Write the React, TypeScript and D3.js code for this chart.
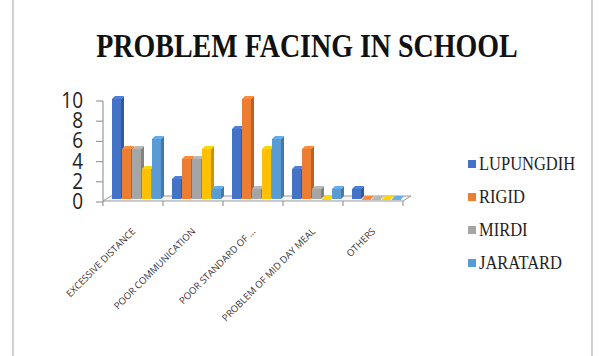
import React from "react";
import * as d3 from "d3";

const categories = [
  "EXCESSIVE DISTANCE",
  "POOR COMMUNICATION",
  "POOR STANDARD OF ...",
  "PROBLEM OF MID DAY MEAL",
  "OTHERS",
];
const seriesNames = ["LUPUNGDIH", "RIGID", "MIRDI", "", "JARATARD"];
const seriesColors = ["#4472C4", "#ED7D31", "#A5A5A5", "#FFC000", "#5B9BD5"];
const lupungdih = [10, 2, 7, 3, 1];
const rigid = [5, 4, 10, 5, 0];
const mirdi = [5, 4, 1, 1, 0];
const unnamed = [3, 5, 5, 0, 0];
const jaratard = [6, 1, 6, 1, 0];
const yTicks = [0, 2, 4, 6, 8, 10];
const legendItems = [0, 1, 2, 4];

const W = 601;
const H = 356;

export default function App() {
  const series = [lupungdih, rigid, mirdi, unnamed, jaratard];
  const x0 = 103;
  const x1 = 403;
  const xCat = d3.scaleBand<string>().domain(categories).range([x0, x1]);
  const xSer = d3
    .scaleBand<number>()
    .domain(d3.range(series.length))
    .range([9, 59]);
  const yFront = d3.scaleLinear().domain([0, 10]).range([199, 99]);
  const yBack = d3.scaleLinear().domain([0, 10]).range([202, 101]);
  const dx = 3;
  const dy = 3;
  const floorFront = 201;
  const floorBack = 196;

  const bars: React.ReactNode[] = [];
  categories.forEach((c, i) => {
    series.forEach((vals, j) => {
      const v = vals[i];
      const bx = (xCat(c) as number) + (xSer(j) as number);
      const bw = xSer.bandwidth() - 1;
      const yt = yFront(v);
      const yb = yFront(0);
      const col = d3.color(seriesColors[j])!;
      const dark = col.darker(0.7).toString();
      const light = col.brighter(0.3).toString();
      bars.push(
        <g key={`${i}-${j}`}>
          <polygon
            points={`${bx + bw},${yt} ${bx + bw + dx},${yt - dy} ${bx + bw + dx},${yb - dy} ${bx + bw},${yb}`}
            fill={dark}
          />
          <polygon
            points={`${bx},${yt} ${bx + dx},${yt - dy} ${bx + bw + dx},${yt - dy} ${bx + bw},${yt}`}
            fill={light}
          />
          <rect x={bx} y={yt} width={bw} height={Math.max(yb - yt, 0.8)} fill={seriesColors[j]} />
        </g>
      );
    });
  });

  return (
    <svg
      width={W}
      height={H}
      style={{ position: "absolute", left: 0, top: 0, display: "block", background: "#fff" }}
    >
      <line x1={13} x2={13} y1={0} y2={H} stroke="#b5b5b5" strokeWidth={1.2} />
      <line x1={592} x2={592} y1={0} y2={H} stroke="#b5b5b5" strokeWidth={1.2} />
      <text
        transform="translate(307,57) scale(1,1.2)"
        textAnchor="middle"
        fontFamily="'Liberation Serif', 'Times New Roman', serif"
        fontWeight="bold"
        fontSize={28}
        fill="#111"
      >
        PROBLEM FACING IN SCHOOL
      </text>

      {/* floor */}
      <polygon
        points={`${x0},${floorFront} ${x0 + 8},${floorBack} ${x1 + 8},${floorBack} ${x1},${floorFront}`}
        fill="#f4f4f4"
        stroke="#9a9a9a"
        strokeWidth={1}
      />
      {/* vertical axis */}
      <line x1={x0} x2={x0} y1={yBack(10)} y2={floorFront} stroke="#9a9a9a" strokeWidth={1.2} />
      {yTicks.map((t) => (
        <g key={t}>
          <line x1={x0 - 7} x2={x0} y1={yBack(t)} y2={yBack(t)} stroke="#9a9a9a" strokeWidth={1.2} />
          <text
            transform={`translate(83,${yBack(t) + 7}) scale(1,1.15)`}
            textAnchor="end"
            fontFamily="'Open Sans', 'Liberation Sans', sans-serif"
            fontSize={19}
            fill="#222"
          >
            {t}
          </text>
        </g>
      ))}
      {d3.range(categories.length + 1).map((k) => {
        const tx = x0 + xCat.bandwidth() * k;
        return (
          <line key={k} x1={tx} x2={tx} y1={floorFront} y2={floorFront + 5} stroke="#9a9a9a" strokeWidth={1.2} />
        );
      })}
      {bars}
      {categories.map((c) => {
        const cx = (xCat(c) as number) + xCat.bandwidth() / 2 + 3;
        const cy = 232;
        return (
          <text
            key={c}
            transform={`translate(${cx},${cy}) rotate(-45)`}
            textAnchor="end"
            fontFamily="'Open Sans', 'Liberation Sans', sans-serif"
            fontSize={9.5}
            fill="#333"
          >
            {c}
          </text>
        );
      })}
      {legendItems.map((j, k) => {
        const ly = 164 + k * 33;
        return (
          <g key={j}>
            <rect x={468} y={ly - 4} width={8} height={8} fill={seriesColors[j]} />
            <text
              transform={`translate(479,${ly + 6}) scale(1,1.1)`}
              fontFamily="'Liberation Serif', 'Times New Roman', serif"
              fontSize={16.5}
              fill="#222"
            >
              {seriesNames[j]}
            </text>
          </g>
        );
      })}
    </svg>
  );
}
